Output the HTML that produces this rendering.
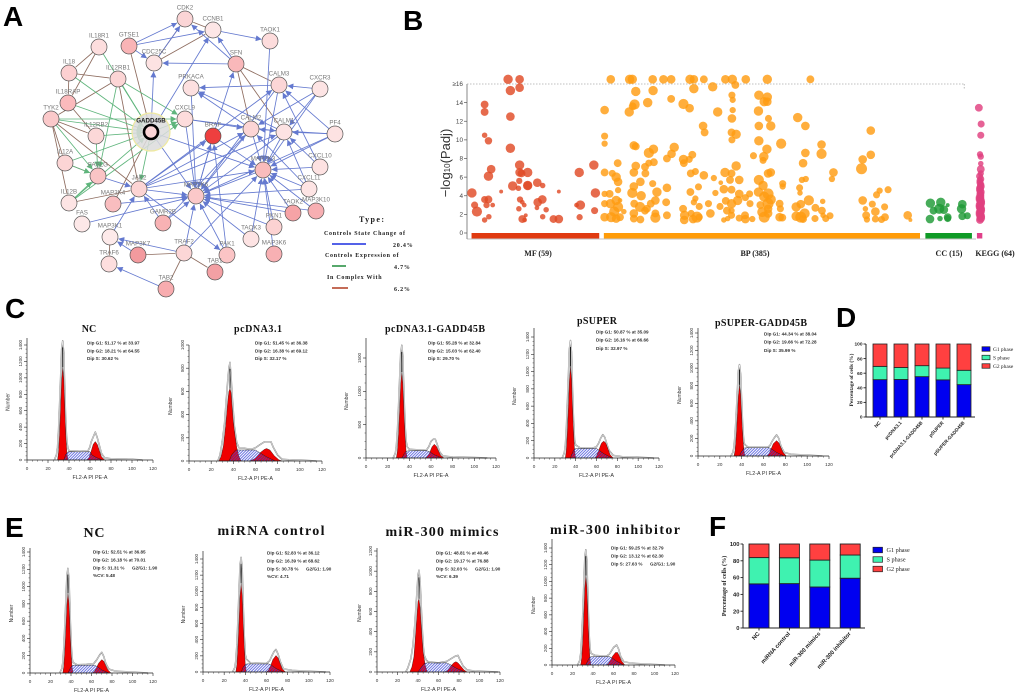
<!DOCTYPE html>
<html lang="en">
<head>
<meta charset="utf-8">
<title>GADD45B network, enrichment and cell cycle figure</title>
<style>
html,body{margin:0;padding:0;background:#fff;width:1020px;height:697px;overflow:hidden}
svg{display:block;filter:blur(0.3px)}
text{font-family:"Liberation Sans",sans-serif}
.serif{font-family:"Liberation Serif",serif}
.letter{font-size:28px;font-weight:bold;fill:#000}
.title{font-family:"Liberation Serif",serif;font-weight:bold;fill:#111}
</style>
</head>
<body>
<svg id="fig" xmlns="http://www.w3.org/2000/svg" width="1020" height="697" viewBox="0 0 1020 697">
<defs>
<pattern id="hatch" width="2" height="2" patternUnits="userSpaceOnUse" patternTransform="rotate(45)">
<rect width="1" height="2" fill="#3a46d8" fill-opacity="0.75"></rect>
</pattern>
<marker id="arrow-blue" viewBox="0 0 8 8" refX="7.5" refY="4" markerWidth="6" markerHeight="6" markerUnits="userSpaceOnUse" orient="auto"><path d="M0 0L8 4L0 8Z" fill="#6479cf"></path></marker>
<marker id="arrow-green" viewBox="0 0 8 8" refX="7.5" refY="4" markerWidth="6" markerHeight="6" markerUnits="userSpaceOnUse" orient="auto"><path d="M0 0L8 4L0 8Z" fill="#5fb57c"></path></marker>
</defs>
<text class="letter" x="3" y="26">A</text>
<text class="letter" x="403" y="30">B</text>
<text class="letter" x="5" y="318">C</text>
<text class="letter" x="836" y="327">D</text>
<text class="letter" x="5" y="537">E</text>
<text class="letter" x="709" y="536">F</text>
<g id="network"></g>
<g id="network-legend">
<text class="serif" x="359" y="222" font-size="8" font-weight="bold" letter-spacing="1.4" fill="#222">Type:</text>
<text class="serif" x="324" y="235" font-size="6" font-weight="bold" letter-spacing="0.72" fill="#222">Controls State Change of</text>
<line x1="332" x2="366" y1="244" y2="244" stroke="#1c2fe0" stroke-width="1.5"></line>
<text class="serif" x="393" y="247" font-size="6" font-weight="bold" letter-spacing="0.8" fill="#222">20.4%</text>
<text class="serif" x="325" y="257" font-size="6" font-weight="bold" letter-spacing="0.72" fill="#222">Controls Expression of</text>
<line x1="332" x2="346" y1="266" y2="266" stroke="#1f8a3a" stroke-width="1.5"></line>
<text class="serif" x="394" y="269" font-size="6" font-weight="bold" letter-spacing="0.8" fill="#222">4.7%</text>
<text class="serif" x="327" y="279" font-size="6" font-weight="bold" letter-spacing="0.72" fill="#222">In Complex With</text>
<line x1="332" x2="348" y1="288" y2="288" stroke="#b03a20" stroke-width="1.5"></line>
<text class="serif" x="394" y="291" font-size="6" font-weight="bold" letter-spacing="0.8" fill="#222">6.2%</text>
</g>
<g id="bubble"></g>
<g id="hist"></g>
<g id="stacked"></g>
</svg>
<script>
/* ---------- Panel A: network ---------- */
const nodeNames = ["CDK2","CCNB1","TAOK1","IL18R1","GTSE1","CDC25C","SFN","IL18","IL12RB1","PRKACA","CALM3","CXCR3","IL18RAP","TYK2","CXCL9","BRAF","CALM2","CALM1","PF4","IL12RB2","IL12A","FASLG","MAP2K3","CXCL10","CXCL11","JAK2","MAP3K4","IL12B","MAP2K6","TAOK2","MAP3K10","FAS","GAMR2B","PKN1","TAOK3","MAP3K1","MAP3K7","TRAF2","PAK1","MAP3K6","TRAF6","TAB1","TAB2","GADD45B"];
const nodeX = [185,213,270,99,129,154,236,69,118,191,279,320,68,51,185,213,251,284,335,96,65,98,263,320,309,139,113,69,196,293,316,82,163,274,251,110,138,184,227,274,109,215,166,151];
const nodeY = [19,30,41,47,46,63,64,73,79,88,85,89,103,119,119,136,129,132,134,136,163,176,170,167,189,189,204,203,196,213,211,224,223,227,239,237,255,253,255,254,264,272,289,132];
const nodeFill = ["#fbd5d6","#fde6e6","#fddcdc","#fddede","#f9b4b6","#fde2e2","#f9b8ba","#fcd0d1","#fcd5d5","#fde0e0","#fcd6d6","#fde4e4","#fbbabc","#fbc9ca","#fddcdc","#ee3f3f","#fcd5d5","#fde3e3","#fde2e2","#fcd8d8","#fcd5d5","#fac4c5","#fabcbc","#fde2e2","#fde4e4","#fcd4d4","#f9bdbf","#fde4e4","#fbc8c9","#f6a3a6","#f7afb2","#fde8e8","#f8b2b4","#fcd2d2","#fde3e3","#fdeaea","#f39a9e","#fcd6d6","#fbc4c5","#f8b0b3","#fddede","#f3a0a4","#f8acaf","#fbd5d6"];
const blueEdges = "GTSE1>CDK2 GTSE1>CCNB1 GTSE1>CDC25C CDC25C>CDK2 SFN>CDK2 SFN>CCNB1 SFN>CDC25C CCNB1>TAOK1 GADD45B>CDC25C GADD45B>CCNB1 TAOK1>MAP2K3 BRAF>SFN CXCL9>CALM2 CXCL9>CALM1 CALM3>PRKACA CXCR3>CALM3 CXCR3>CALM2 CXCR3>MAP2K3 CXCR3>CALM1 PF4>CALM3 PF4>CALM1 PF4>CALM2 PF4>MAP2K3 PF4>MAP2K6 CXCL10>CALM3 CXCL10>CALM1 CXCL10>MAP2K3 CXCL11>CALM1 CXCL11>MAP2K3 CXCL11>CALM2 CXCL11>MAP2K6 CALM3>MAP2K6 CALM3>MAP2K3 CALM2>PRKACA CALM1>PRKACA CALM1>MAP2K3 CALM1>MAP2K6 CALM2>MAP2K6 CALM2>MAP2K3 BRAF>MAP2K3 BRAF>MAP2K6 MAP2K6>BRAF JAK2>BRAF JAK2>CALM2 JAK2>MAP2K3 JAK2>MAP2K6 JAK2>CALM3 JAK2>CALM1 CXCL9>MAP2K6 PRKACA>MAP2K6 PAK1>BRAF TRAF2>MAP2K6 TRAF2>MAP2K3 TAOK2>MAP2K6 TAOK2>MAP2K3 MAP3K10>MAP2K3 MAP3K10>MAP2K6 PKN1>MAP2K3 TAOK3>MAP2K3 MAP3K6>MAP2K3 PAK1>MAP2K6 GAMR2B>JAK2 GAMR2B>MAP2K6 GAMR2B>CALM2 MAP3K4>MAP2K6 FAS>MAP2K6 MAP3K1>JAK2 MAP3K7>MAP3K1 TRAF2>MAP3K1 TAB2>TRAF6 FASLG>JAK2 GADD45B>MAP2K3 JAK2>PAK1 GADD45B>MAP2K6 PKN1>MAP2K6 TAOK3>MAP2K6 MAP2K3>MAP2K6".split(" ");
const greenEdges = "IL18R1>GADD45B IL18>GADD45B IL18RAP>GADD45B IL12RB1>GADD45B TYK2>GADD45B TYK2>CXCL9 IL12RB2>GADD45B IL12A>GADD45B IL12A>FASLG IL12B>FASLG IL12B>GADD45B IL12B>CXCL9 TYK2>FASLG IL12RB1>FASLG GADD45B>JAK2 IL12RB1>CXCL9 IL12RB2>FASLG GADD45B>CXCL9".split(" ");
const brownEdges = "IL18R1-IL18 IL18R1-IL18RAP IL18-IL18RAP IL18-IL12RB1 IL18RAP-IL12RB2 IL12RB1-TYK2 IL12RB1-JAK2 TYK2-IL12RB2 TYK2-IL12A TYK2-IL12B TYK2-JAK2 IL12A-FASLG IL12B-JAK2 GTSE1-GADD45B CDC25C-CDK2 CDC25C-CCNB1 CCNB1-CDK2 SFN-CALM3 SFN-CALM2 SFN-CALM1 MAP3K7-TRAF2 TRAF2-TAB1 TRAF2-TAB2 MAP3K1-TRAF6 MAP3K4-GADD45B".split(" ");

/* ---------- Panel B: bubbles as [term rank, -log10(padj), bubble size] ---------- */
const mfTerms = [[229,16.5,12],[259,16.5,11],[235,15.3,12],[259,15.6,11],[168,13.8,10],[168,13,10],[235,12.5,11],[168,10.5,7],[178,9.9,9.5],[235,9.1,12],[185,6.85,11],[178,6.1,12],[259,7.3,12],[259,6.5,11],[280,6.5,12],[264,6.4,10],[258,5.6,8],[241,5.05,12],[280,5.1,12],[280,5.1,11],[256,4.8,7],[305,5.4,11],[319,5.1,7],[135,4.3,12],[211,4.45,5],[361,4.45,5],[414,6.5,12],[452,7.3,12],[456,4.3,12],[168,3.6,9],[178,3.6,10],[260,3.6,8],[142,3,9],[173,3,8],[189,3,6],[266,3.3,6],[271,3,6],[318,3.6,11],[306,3.3,11],[304,2.7,6],[328,2.5,7],[407,3,6],[417,3,12],[454,2.4,9],[148,2.3,13],[257,2.6,7],[179,1.75,7],[168,1.4,7],[275,1.9,5],[266,1.5,10],[272,1.4,6],[319,1.75,7],[347,1.5,10],[361,1.5,11],[415,1.7,8]];
const bpTerms = [[496,16.5,11],[545,16.5,12],[552,16.5,12],[605,16.5,11],[633,16.5,11],[653,16.5,11],[702,16.5,12],[712,16.5,11],[738,16.5,10],[794,16.5,11],[812,16.5,12],[847,16.5,11],[903,16.5,12],[1015,16.5,10],[561,15.2,12],[606,15.3,12],[712,15.5,12],[761,15.7,12],[820,15.9,10],[653,14.4,10],[592,14,12],[558,13.8,13],[553,13.6,10],[544,13,12],[480,13.2,11],[685,13.85,13],[701,13.4,11],[774,13,12],[811,14.8,9],[813,14.3,8],[813,13.2,8],[811,12.3,11],[881,14.8,12],[903,14.6,12],[895,14.1,12],[903,14.1,11],[880,13.1,12],[906,12.3,9],[912,11.5,12],[881,11.5,11],[982,12.4,12],[1002,11.5,11],[1172,11,11],[736,11.5,11],[740,10.8,10],[810,10.8,10],[822,10.6,12],[811,10,9],[881,9.9,12],[939,9.6,13],[1044,9.5,11],[1044,8.5,13],[1002,8.6,11],[1172,8.4,11],[1151,7.9,11],[996,7.5,11],[902,9,12],[894,8.2,12],[892,7.8,9],[867,8.3,9],[480,10.4,9],[480,9.6,8],[556,9.4,11],[561,9.3,10],[607,9,12],[595,8.6,13],[661,9.2,12],[654,8.5,11],[642,8,10],[685,7.9,12],[686,7.5,10],[708,8.4,10],[700,7.9,9],[608,7.6,10],[595,7.5,9],[514,7.5,10],[561,7.2,11],[556,6.5,11],[585,7.1,10],[586,6.4,10],[573,5.5,11],[605,5.3,9],[480,6.5,10],[500,6.4,9],[510,6,12],[515,5.5,11],[515,4.6,8],[822,7.2,12],[793,6.5,12],[810,6.4,10],[830,5.7,11],[806,5.7,10],[905,6.4,11],[912,6.5,11],[881,5.7,13],[892,5.1,12],[943,5.3,9],[943,5,8],[1075,6.5,11],[1071,5.8,8],[1148,6.9,14],[993,5.7,8],[1003,5.8,8],[987,4.85,9],[988,4.3,7],[738,6.2,11],[764,5.9,8],[704,6.4,10],[716,6.6,9],[724,4.95,9],[642,4.85,11],[556,5,11],[616,4.4,12],[703,4.4,10],[768,4.3,8],[782,5.4,6],[790,4.7,11],[810,4.65,10],[830,4.2,11],[857,4.2,9],[1195,4.55,8],[1217,4.65,9],[1187,4.1,9],[1047,3.4,7],[1011,3.5,13],[990,3.1,11],[978,2.8,12],[1028,2.7,10],[1151,3.5,11],[1176,3.1,9],[1208,2.8,9],[1158,2.6,7],[1184,2.3,11],[1160,1.9,10],[1268,1.9,11],[1275,1.4,5],[1209,1.7,10],[1200,1.45,9],[1184,1.5,9],[1162,1.45,8],[1066,1.85,9],[1045,2.4,10],[1055,1.55,9],[1027,1.55,9],[1048,1.9,7],[1000,2.1,13],[990,1.7,14],[978,1.8,12],[996,1.5,10],[935,3.15,10],[937,2.6,9],[935,1.7,11],[942,1.65,10],[905,4.2,14],[880,4.4,12],[895,3.9,13],[912,3.6,13],[905,3.15,14],[885,3,10],[905,2.6,11],[890,2.25,13],[895,1.7,14],[905,2.1,11],[864,1.5,8],[845,1.9,10],[846,1.5,11],[830,1.6,9],[790,1.4,7],[810,1.9,9],[798,2.4,10],[780,2.85,9],[810,3.15,12],[795,3.45,10],[826,3.5,12],[846,3.8,9],[858,3.15,9],[810,2.4,8],[800,1.55,7],[755,2.1,11],[750,3.15,9],[726,2.85,9],[712,3.3,8],[716,3.7,8],[684,2.6,10],[688,1.9,12],[687,1.4,11],[705,2.1,9],[720,1.7,14],[710,1.5,11],[726,1.7,9],[640,3.3,10],[642,1.9,10],[612,3.5,11],[600,3.15,10],[590,2.6,10],[612,2.1,10],[612,1.65,13],[573,1.45,10],[556,2.1,11],[556,1.55,10],[557,3.15,10],[552,4.3,13],[575,4,12],[572,2.8,13],[585,2.4,10],[480,4.2,8],[493,4.2,10],[480,3.15,9],[495,3.15,12],[510,3.5,12],[515,2.8,13],[505,2.3,13],[480,1.7,11],[497,1.7,13],[510,1.55,11],[520,1.7,10],[530,2.3,7],[520,3.5,6]];
const ccTerms = [[1327,3.2,12],[1354,3.3,12],[1372,3,5],[1335,2.4,10],[1350,2.6,13],[1362,2.5,11],[1326,1.5,11],[1352,1.55,7],[1372,1.7,10],[1372,1.55,9],[1410,3.1,11],[1408,2.6,12],[1410,1.8,10],[1423,1.85,9]];
const keggTerms = [[1453,13.45,10],[1459,11.7,9],[1458,10.5,9],[1456,8.45,8],[1458,8.2,8],[1458,7.45,7],[1458,6.85,10],[1455,6.1,9],[1458,6.4,8],[1458,5.8,9],[1456,5.6,9],[1456,5.4,9],[1458,5.2,9],[1458,5,10],[1456,4.8,10],[1456,4.6,10],[1458,4.4,10],[1457,4.2,10],[1457,4,10],[1456,3.8,11],[1456,3.6,11],[1458,3.4,11],[1458,3.2,11],[1456,3,11],[1456,2.8,11],[1458,2.6,11],[1458,2.4,11],[1456,2.2,11],[1456,2,11],[1458,1.8,11],[1458,1.6,11],[1456,1.4,10]];
const bubbleTicks = [0,2,4,6,8,10,12,14];
const topTickLabel = "≥16";
const sectionLabels = ["MF (59)","BP (385)","CC (15)","KEGG (64)"];
const sectionStart = [134,478,1314,1448];
const sectionEnd = [466,1300,1435,1462];

/* ---------- Panels C and E: DNA histograms, curves as [channel, count] ---------- */
const histTitles = ["NC","pcDNA3.1","pcDNA3.1-GADD45B","pSUPER","pSUPER-GADD45B","NC","miRNA control","miR-300 mimics","miR-300 inhibitor"];
const histYMax = [1400,1000,1500,1400,1400,1400,1400,1200,1400];
const histYStep = [200,200,500,200,200,200,200,200,200];
const xTickValues = [0,20,40,60,80,100,120];
const g1Curves = [
[[29,0],[30,90],[31,300],[32,620],[33,960],[34,1130],[35,980],[36,620],[37,300],[38,90],[39,0]],
[[27,0],[29,40],[31,130],[33,300],[35,520],[36,600],[37,625],[38,590],[39,460],[40,340],[41,260],[43,120],[45,40],[47,0]],
[[28,0],[29,100],[30,350],[31,710],[32,1100],[33,1290],[34,1120],[35,710],[36,350],[37,100],[38,0]],
[[30,0],[31,85],[32,285],[33,585],[34,900],[35,1060],[36,920],[37,585],[38,285],[39,85],[40,0]],
[[33,0],[34,65],[35,220],[36,445],[37,690],[38,810],[39,705],[40,445],[41,220],[42,65],[43,0]],
[[32,0],[33,75],[34,250],[35,510],[36,785],[37,925],[38,805],[39,510],[40,250],[41,75],[42,0]],
[[31,0],[32,90],[33,300],[34,605],[35,935],[36,1100],[37,955],[38,605],[39,300],[40,90],[41,0]],
[[32,0],[34,50],[36,150],[37,280],[38,420],[39,570],[40,700],[41,725],[42,640],[43,480],[44,340],[45,200],[47,70],[49,0]],
[[28,0],[29,85],[30,290],[31,590],[32,910],[33,1070],[34,930],[35,590],[36,290],[37,85],[38,0]]];
const g2Curves = [
[[57,0],[59,30],[61,100],[63,190],[65,225],[67,190],[69,110],[71,40],[74,0]],
[[55,0],[60,25],[64,70],[68,100],[70,108],[73,95],[77,45],[81,10],[84,0]],
[[55,0],[57,30],[59,90],[61,170],[63,205],[65,175],[67,100],[69,35],[72,0]],
[[58,0],[60,25],[62,85],[64,150],[65,175],[67,195],[69,170],[71,105],[73,40],[76,0]],
[[63,0],[65,25],[67,80],[69,140],[72,175],[74,150],[76,95],[78,40],[81,0]],
[[61,0],[63,20],[65,65],[67,115],[70,155],[72,135],[74,85],[76,35],[79,0]],
[[60,0],[62,25],[64,80],[66,155],[69,205],[71,175],[73,100],[75,35],[78,0]],
[[66,0],[69,20],[72,60],[75,92],[77,102],[79,90],[82,55],[85,20],[88,0]],
[[53,0],[55,15],[57,55],[59,105],[62,150],[64,150],[66,100],[68,45],[71,0]]];
const sCurves = [
[[35,0],[37,70],[39,100],[60,100],[62,60],[66,30],[72,0]],
[[36,0],[39,60],[42,95],[60,95],[64,70],[70,35],[78,0]],
[[33,0],[35,60],[37,100],[40,110],[56,110],[59,90],[63,50],[70,0]],
[[35,0],[37,65],[39,105],[42,110],[60,110],[63,85],[67,50],[75,0]],
[[38,0],[40,55],[42,90],[45,95],[65,95],[68,75],[72,40],[79,0]],
[[37,0],[39,50],[41,85],[43,90],[63,90],[66,70],[70,35],[77,0]],
[[36,0],[38,60],[40,95],[42,100],[62,100],[65,80],[69,45],[76,0]],
[[40,0],[43,45],[46,85],[49,90],[68,90],[72,70],[77,40],[86,0]],
[[33,0],[35,55],[37,95],[39,100],[56,100],[59,80],[63,45],[70,0]]];
const outlineCurves = [
[[26,0],[28,60],[29,150],[30,350],[31,650],[32,1000],[33,1350],[34,1450],[35,1300],[36,850],[37,450],[38,220],[39,140],[40,115],[50,105],[58,110],[60,160],[61,215],[63,280],[65,340],[67,270],[69,170],[71,80],[74,25],[80,15],[100,10],[110,0]],
[[26,0],[28,50],[30,170],[32,320],[33,450],[35,700],[36,800],[37,850],[38,720],[39,560],[40,430],[41,300],[43,160],[45,115],[50,110],[56,100],[60,115],[64,140],[68,165],[74,165],[76,120],[80,50],[84,15],[90,10],[105,5],[115,0]],
[[25,0],[27,70],[28,170],[29,400],[30,760],[31,1180],[32,1570],[33,1690],[34,1520],[35,1000],[36,520],[37,260],[38,170],[40,130],[50,120],[56,125],[58,170],[60,250],[62,280],[64,280],[66,190],[68,90],[71,30],[80,15],[100,8],[112,0]],
[[27,0],[29,55],[30,135],[31,325],[32,610],[33,950],[34,1265],[35,1360],[36,1225],[37,800],[38,420],[39,205],[40,150],[44,120],[56,115],[60,130],[62,170],[64,230],[66,270],[68,240],[70,160],[72,90],[76,30],[85,15],[100,8],[115,0]],
[[30,0],[32,40],[33,105],[34,250],[35,470],[36,730],[37,970],[38,1040],[39,935],[40,615],[41,320],[42,155],[43,130],[46,100],[64,100],[66,120],[68,170],[70,210],[72,240],[74,200],[76,110],[79,40],[85,20],[100,10],[114,0]],
[[29,0],[31,50],[32,120],[33,290],[34,545],[35,850],[36,1125],[37,1210],[38,1090],[39,715],[40,375],[41,180],[42,120],[46,95],[55,100],[62,105],[65,150],[68,210],[70,240],[72,190],[74,110],[77,45],[84,20],[100,10],[115,0]],
[[28,0],[30,55],[31,140],[32,340],[33,640],[34,995],[35,1320],[36,1420],[37,1280],[38,840],[39,440],[40,215],[41,160],[45,110],[60,105],[63,140],[65,200],[67,250],[69,280],[71,220],[73,130],[76,40],[84,20],[100,10],[116,0]],
[[28,0],[30,40],[33,130],[35,260],[37,480],[38,640],[39,800],[40,960],[41,1010],[42,900],[43,680],[44,460],[45,280],[46,170],[48,120],[50,100],[60,90],[68,105],[72,130],[76,155],[79,165],[81,120],[84,60],[88,20],[95,10],[118,0]],
[[25,0],[27,55],[28,140],[29,330],[30,620],[31,965],[32,1285],[33,1380],[34,1240],[35,815],[36,430],[37,205],[38,140],[42,115],[53,105],[56,130],[58,170],[60,210],[63,240],[65,190],[67,100],[70,40],[78,20],[95,10],[110,0]]];
const statLines = [
["Dip G1: 51.17 % at 33.97","Dip G2: 18.21 % at 64.55","Dip S: 30.62 %"],
["Dip G1: 51.45 % at 36.38","Dip G2: 16.38 % at 69.12","Dip S: 32.17 %"],
["Dip G1: 55.28 % at 32.84","Dip G2: 15.03 % at 62.40","Dip S: 29.70 %"],
["Dip G1: 50.87 % at 35.09","Dip G2: 16.16 % at 66.66","Dip S: 32.97 %"],
["Dip G1: 44.34 % at 38.04","Dip G2: 19.66 % at 72.28","Dip S: 35.99 %"],
["Dip G1: 52.51 % at 36.85","Dip G2: 16.18 % at 70.01","Dip S: 31.31 %      G2/G1: 1.90","%CV: 5.48"],
["Dip G1: 52.83 % at 36.12","Dip G2: 16.39 % at 68.62","Dip S: 30.78 %      G2/G1: 1.90","%CV: 4.71"],
["Dip G1: 48.81 % at 40.46","Dip G2: 19.17 % at 76.88","Dip S: 32.03 %      G2/G1: 1.90","%CV: 6.39"],
["Dip G1: 59.25 % at 32.79","Dip G2: 13.12 % at 62.30","Dip S: 27.63 %      G2/G1: 1.90"]];

/* ---------- Panels D and F: stacked bars ---------- */
const dCategories = ["NC","pcDNA3.1","pcDNA3.1-GADD45B","pSUPER","pSUPER-GADD45B"];
const dG1 = [51.17,51.45,55.28,50.87,44.34];
const dS = [18.21,16.38,15.03,16.16,19.66];
const dG2 = [30.62,32.17,29.70,32.97,35.99];
const fCategories = ["NC","miRNA control","miR-300 mimics","miR-300 inhibitor"];
const fG1 = [52.51,52.83,48.81,59.25];
const fS = [31.31,30.78,32.03,27.63];
const fG2 = [16.18,16.39,19.17,13.12];
const barTicks = [0,20,40,60,80,100];
const phaseLabels = ["G1 phase","S phase","G2 phase"];
const phaseColors = ["#0000f0","#3ff2b0","#ff4040"];

/* ---------- helpers ---------- */
const NS = "http://www.w3.org/2000/svg";
function make(tag, attrs, parent, text){
  const e = document.createElementNS(NS, tag);
  for (const k in attrs) e.setAttribute(k, attrs[k]);
  if (text !== undefined) e.textContent = text;
  parent.appendChild(e);
  return e;
}
function slug(s){ return String(s).toLowerCase().replace(/[^a-z0-9]+/g,'-').replace(/^-|-$/g,''); }

/* ---------- draw network ---------- */
(function(){
  const g = document.getElementById('network');
  const idx = n => nodeNames.indexOf(n);
  function edge(a, b, color, marker, kind){
    const i = idx(a), j = idx(b);
    const dx = nodeX[j]-nodeX[i], dy = nodeY[j]-nodeY[i], d = Math.hypot(dx,dy);
    const attrs = {x1:nodeX[i],y1:nodeY[i],x2:nodeX[j]-dx/d*8.8,y2:nodeY[j]-dy/d*8.8,stroke:color,'stroke-width':0.85};
    if (marker) attrs['marker-end'] = 'url(#'+marker+')';
    const l = make('line', attrs, g);
    
    
  }
  brownEdges.forEach(s => { const p = s.split('-'); edge(p[0],p[1],'#8d6b5e',null,'complex'); });
  greenEdges.forEach(s => { const p = s.split('>'); edge(p[0],p[1],'#5fb57c','arrow-green','expression'); });
  blueEdges.forEach(s => { const p = s.split('>'); edge(p[0],p[1],'#6479cf','arrow-blue','state'); });
  const halo = make('circle',{cx:nodeX[43],cy:nodeY[43],r:19,fill:'#dcdcdc','fill-opacity':0.85,stroke:'#efe9a0','stroke-width':1.2},g);
  
  
  nodeNames.forEach((n,i) => {
    const focus = n === 'GADD45B';
    const c = make('circle',{cx:nodeX[i],cy:nodeY[i],r:focus?7:8,fill:nodeFill[i],stroke:focus?'#000':'#555','stroke-width':focus?2.6:0.7},g);
    
    
    const t = make('text',{x:nodeX[i],y:nodeY[i]-9.5,'text-anchor':'middle','font-size':6.2,fill:focus?'#222':'#777','font-weight':focus?'bold':'normal'},g,n);
    
    
  });
})();

/* ---------- draw bubble chart ---------- */
(function(){
  const g = document.getElementById('bubble');
  const xScale = r => 420 + r/2.6;
  const yScale = v => 233 - v*(233-84)/16;
  const sizeScale = s => s/2.55;
  const yAxis = make('line',{x1:467,x2:467,y1:84,y2:239,stroke:'#555','stroke-width':0.7},g);
  
  
  const xAxis = make('line',{x1:467,x2:976,y1:239,y2:239,stroke:'#888','stroke-width':0.6},g);
  
  
  const dotted = make('line',{x1:467,x2:xScale(1415),y1:yScale(16),y2:yScale(16),stroke:'#aaa','stroke-width':0.8,'stroke-dasharray':'1.5 1.5'},g);
  
  
  const capTick = make('line',{x1:xScale(1415),x2:xScale(1415),y1:yScale(16),y2:yScale(16)+6,stroke:'#aaa','stroke-width':0.8,'stroke-dasharray':'1.5 1.5'},g);
  
  
  bubbleTicks.forEach(v => {
    const t = make('line',{x1:464,x2:467,y1:yScale(v),y2:yScale(v),stroke:'#555','stroke-width':0.7},g);
    
    
    const l = make('text',{x:463,y:yScale(v)+2.2,'text-anchor':'end','font-size':6.4,fill:'#444'},g,v);
    
    
  });
  const top = make('text',{x:463,y:yScale(16)+2.2,'text-anchor':'end','font-size':6.4,fill:'#444'},g,topTickLabel);
  
  
  const yt = make('text',{transform:'translate(450,163) rotate(-90)','text-anchor':'middle','font-size':13,fill:'#333'},g);
  
  
  yt.innerHTML = '−log<tspan font-size="8">10</tspan>(Padj)';
  const series = [[mfTerms,'#e04a26','mf'],[bpTerms,'#ff9c12','bp'],[ccTerms,'#1f9a36','cc'],[keggTerms,'#e0407f','kegg']];
  series.forEach((s,si) => {
    const sg = make('g',{},g);
    
    
    s[0].forEach((d,i) => {
      const c = make('circle',{cx:xScale(d[0]),cy:yScale(d[1]),r:sizeScale(d[2]),fill:s[1],'fill-opacity':0.82},sg);
      
      
    });
    const bar = make('rect',{x:xScale(sectionStart[si]),y:233,width:(sectionEnd[si]-sectionStart[si])/2.6,height:5.5,fill:['#e03a10','#ff9c08','#0f9a26','#e0408a'][si]},g);
    
    
  });
  const labelX = [538,755,949,995];
  sectionLabels.forEach((t,i) => {
    const l = make('text',{x:labelX[i],y:256,'text-anchor':'middle','font-size':8,'font-weight':'bold','class':'serif',fill:'#222'},g,t);
    
    
  });
})();

/* ---------- draw histograms ---------- */
(function(){
  const root = document.getElementById('hist');
  const layout = [
    {x0:27,x1:153,y0:460,yt:345,top:338,nx:9.5,sx:87,sy:343,gap:7.8,tx:89,ty:332,tl:0,fs:10},
    {x0:189,x1:322,y0:461,yt:345,top:345,nx:172,sx:255,sy:343,gap:7.8,tx:258,ty:332,tl:48,fs:10},
    {x0:366,x1:496,y0:458,yt:358,top:338,nx:348,sx:428,sy:343,gap:7.8,tx:435,ty:332,tl:100,fs:10},
    {x0:534,x1:659,y0:458,yt:337,top:328,nx:516,sx:596,sy:332,gap:8.2,tx:597,ty:324,tl:40,fs:10},
    {x0:698,x1:829,y0:456,yt:333,top:328,nx:681,sx:764,sy:334,gap:8.2,tx:761,ty:326,tl:92,fs:10},
    {x0:30,x1:153,y0:673,yt:552,top:548,nx:13,sx:93,sy:552,gap:7.9,tx:94,ty:537,tl:21,fs:14},
    {x0:203,x1:330,y0:672,yt:559,top:551,nx:185,sx:267,sy:553,gap:7.9,tx:271,ty:535,tl:107,fs:14},
    {x0:377,x1:500,y0:672,yt:551,top:548,nx:361,sx:436,sy:553,gap:7.9,tx:442,ty:536,tl:113,fs:14},
    {x0:552,x1:675,y0:665,yt:548,top:539,nx:535,sx:611,sy:548,gap:8.1,tx:615,ty:534,tl:130,fs:14}];
  histTitles.forEach((title,p) => {
    const L = layout[p];
    const id = 'hist-'+(p<5?'c':'e')+'-'+slug(title);
    const X = c => L.x0 + c*(L.x1-L.x0)/120;
    const Y = v => L.y0 - v*(L.y0-L.yt)/histYMax[p];
    const toPath = (pts, close) => 'M'+pts.map(q => X(q[0]).toFixed(1)+' '+Y(q[1]).toFixed(1)).join('L')+(close?'Z':'');
    const g = make('g',{},root);
    
    

    const titleAttrs = {x:L.tx,y:L.ty,'text-anchor':'middle','font-size':L.fs,'class':'title'};
    if (L.tl) { titleAttrs.textLength = L.tl; titleAttrs.lengthAdjust = 'spacing'; }
    const t = make('text',titleAttrs,g,title);
    
    

    const o1 = make('path',{d:toPath(outlineCurves[p]),fill:'none',stroke:'#8a8a8a','stroke-width':1.5,'stroke-linejoin':'round'},g);
    
    
    const o2 = make('path',{d:toPath(outlineCurves[p]),fill:'none',stroke:'#fff','stroke-width':0.5,'stroke-linejoin':'round'},g);
    
    

    const red1 = make('path',{d:toPath(g1Curves[p],true),fill:'#f00000',stroke:'#111','stroke-width':0.35},g);
    
    
    const red2 = make('path',{d:toPath(g2Curves[p],true),fill:'#f00000',stroke:'#111','stroke-width':0.35},g);
    
    
    const sArea = make('path',{d:toPath(sCurves[p],true),fill:'url(#hatch)',stroke:'#111','stroke-width':0.4},g);
    
    

    const peak = outlineCurves[p].reduce((a,b) => b[1]>a[1]?b:a);
    const g1Top = g1Curves[p].reduce((a,b) => b[1]>a[1]?b:a);
    const spike = make('line',{x1:X(g1Top[0]),x2:X(g1Top[0]),y1:Y(g1Top[1]),y2:Y(g1Top[1]+(peak[1]-g1Top[1])*0.75),stroke:'#111','stroke-width':0.9},g);
    
    

    const ya = make('line',{x1:L.x0,x2:L.x0,y1:L.top,y2:L.y0,stroke:'#222','stroke-width':0.7},g);
    
    
    const xa = make('line',{x1:L.x0,x2:L.x1,y1:L.y0,y2:L.y0,stroke:'#222','stroke-width':0.8},g);
    
    

    for (let v=0; v<=histYMax[p]; v+=histYStep[p]) {
      const tk = make('line',{x1:L.x0-3,x2:L.x0,y1:Y(v),y2:Y(v),stroke:'#222','stroke-width':0.6},g);
      
      
      const lb = make('text',{transform:'translate('+(L.x0-5)+','+Y(v)+') rotate(-90)','text-anchor':'middle','font-size':4.6,fill:'#333'},g,v);
      
      
      const step = histYStep[p]/4;
      for (let m=1; m<4 && v<histYMax[p]; m++) {
        const mn = make('line',{x1:L.x0-1.5,x2:L.x0,y1:Y(v+m*step),y2:Y(v+m*step),stroke:'#222','stroke-width':0.4},g);
        
        
      }
    }
    xTickValues.forEach(v => {
      const tk = make('line',{x1:X(v),x2:X(v),y1:L.y0,y2:L.y0+3,stroke:'#222','stroke-width':0.6},g);
      
      
      const lb = make('text',{x:X(v),y:L.y0+10,'text-anchor':'middle','font-size':4.6,fill:'#333'},g,v);
      
      
      if (v<120) for (let m=5; m<20; m+=5) {
        const mn = make('line',{x1:X(v+m),x2:X(v+m),y1:L.y0,y2:L.y0+1.7,stroke:'#222','stroke-width':0.4},g);
        
        
      }
    });
    const xt = make('text',{x:(L.x0+L.x1)/2,y:L.y0+19,'text-anchor':'middle','font-size':5.4,fill:'#333'},g,'FL2-A PI PE-A');
    
    
    const yTitle = make('text',{transform:'translate('+L.nx+','+((L.y0+L.top)/2+3)+') rotate(-90)','text-anchor':'middle','font-size':5,fill:'#333'},g,'Number');
    
    
    statLines[p].forEach((line,i) => {
      const s = make('text',{x:L.sx,y:L.sy+i*L.gap+1.5,'font-size':4.6,'font-weight':'bold',fill:'#333',style:'white-space:pre'},g,line);
      
      
    });
  });
})();

/* ---------- draw stacked bars ---------- */
(function(){
  const root = document.getElementById('stacked');
  function chart(id, cats, g1, s, g2, o){
    const g = make('g',{},root);
    
    
    const Y = v => o.y0 - v*(o.y0-o.y100)/100;
    cats.forEach((c,i) => {
      const slug0 = slug(c);
      const cx = o.first + i*o.step;
      const vals = [g1[i], s[i], g2[i]];
      let base = 0;
      vals.forEach((v,k) => {
        const top = Math.min(base+v,100);
        const r = make('rect',{x:cx-o.w/2,y:Y(top),width:o.w,height:Y(base)-Y(top),fill:phaseColors[k],stroke:'#222','stroke-width':o.sw},g);
        
        
        base = top;
      });
      const tick = make('line',{x1:cx,x2:cx,y1:o.y0,y2:o.y0+2.5,stroke:'#222','stroke-width':0.9},g);
      
      
      const lb = make('text',{transform:'translate('+(cx+1)+','+(o.y0+6)+') rotate(-48)','text-anchor':'end','font-size':o.cat,'font-weight':'bold',fill:'#222'},g,c);
      
      
    });
    const ya = make('line',{x1:o.ax,x2:o.ax,y1:o.y100,y2:o.y0,stroke:'#222','stroke-width':1},g);
    
    
    const xa = make('line',{x1:o.ax,x2:o.axEnd,y1:o.y0,y2:o.y0,stroke:'#222','stroke-width':1},g);
    
    
    barTicks.forEach(v => {
      const t = make('line',{x1:o.ax-2.5,x2:o.ax,y1:Y(v),y2:Y(v),stroke:'#222','stroke-width':0.9},g);
      
      
      const l = make('text',{x:o.ax-3.5,y:Y(v)+o.tick*0.36,'text-anchor':'end','font-size':o.tick,'font-weight':'bold',fill:'#222'},g,v);
      
      
    });
    const yt = make('text',{transform:'translate('+o.tx+','+o.ty+') rotate(-90)','text-anchor':'middle','font-size':o.title,'font-weight':'bold','class':'serif',fill:'#222'},g,'Percentage of cells (%)');
    
    
    phaseLabels.forEach((p,k) => {
      const b = make('rect',{x:o.lx,y:o.ly[k]-o.lh/2,width:o.lw,height:o.lh,fill:phaseColors[k],stroke:'#222','stroke-width':0.7},g);
      
      
      const t = make('text',{x:o.lx+o.lw+o.lgap,y:o.ly[k]+o.lf*0.35,'font-size':o.lf,'class':'serif',fill:'#222'},g,p);
      
      
    });
  }
  chart('panel-d-bars', dCategories, dG1, dS, dG2, {y0:417,y100:344,ax:866,axEnd:975,first:880,step:21,w:14,sw:0.8,cat:4.8,tick:4.8,title:5.4,tx:853,ty:380,lx:982,lw:8,lh:4.5,lgap:3,lf:5.4,ly:[349,357.5,366]});
  chart('panel-f-bars', fCategories, fG1, fS, fG2, {y0:628,y100:544,ax:743,axEnd:865,first:759,step:30.4,w:20,sw:0.9,cat:5.8,tick:5.8,title:6.2,tx:726,ty:586,lx:873,lw:9.5,lh:5.5,lgap:4,lf:6.2,ly:[550,559.5,569]});
})();
</script>
</body>
</html>
